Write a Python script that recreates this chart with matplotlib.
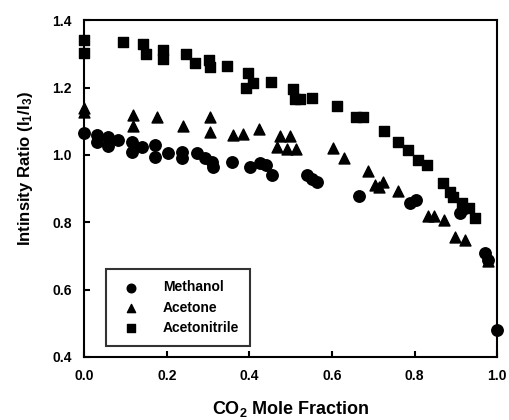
import matplotlib
matplotlib.use("Agg")
from matplotlib import pyplot as plt

plt.rcParams['font.family'] = ['Liberation Sans', 'DejaVu Sans']
plt.rcParams['mathtext.fontset'] = 'custom'
plt.rcParams['mathtext.rm'] = 'Liberation Sans:bold'
plt.rcParams['mathtext.it'] = 'Liberation Sans:bold'

# methanol
meth_x = [0.0, 0.031, 0.031, 0.058, 0.058, 0.082, 0.116, 0.116, 0.140, 0.172, 0.172,
          0.203, 0.237, 0.237, 0.274, 0.293, 0.310, 0.312, 0.358, 0.402, 0.426, 0.441,
          0.455, 0.540, 0.552, 0.564, 0.666, 0.789, 0.804, 0.910, 0.918, 0.971, 0.978, 1.0]
meth_y = [1.065, 1.059, 1.038, 1.053, 1.026, 1.044, 1.038, 1.008, 1.023, 1.029, 0.993,
          1.005, 1.008, 0.991, 1.005, 0.991, 0.979, 0.964, 0.979, 0.964, 0.976, 0.970,
          0.940, 0.940, 0.928, 0.919, 0.878, 0.857, 0.866, 0.827, 0.839, 0.709, 0.688, 0.480]

# acetone
acet_x = [0.0, 0.0, 0.119, 0.119, 0.177, 0.240, 0.305, 0.305, 0.361, 0.385, 0.424, 0.475,
          0.499, 0.467, 0.492, 0.513, 0.603, 0.630, 0.688, 0.705, 0.724, 0.714, 0.760,
          0.833, 0.847, 0.872, 0.898, 0.923, 0.978]
acet_y = [1.139, 1.128, 1.118, 1.085, 1.112, 1.085, 1.112, 1.068, 1.059, 1.062, 1.077, 1.056,
          1.056, 1.023, 1.017, 1.017, 1.020, 0.990, 0.952, 0.910, 0.919, 0.904, 0.893,
          0.818, 0.818, 0.807, 0.756, 0.747, 0.685]

# acetonitrile
acn_x = [0.0, 0.0, 0.094, 0.143, 0.150, 0.191, 0.191, 0.247, 0.269, 0.303, 0.305, 0.346,
         0.397, 0.392, 0.409, 0.453, 0.506, 0.511, 0.523, 0.552, 0.613, 0.659, 0.676,
         0.726, 0.760, 0.785, 0.809, 0.830, 0.869, 0.886, 0.893, 0.915, 0.932, 0.947]
acn_y = [1.341, 1.302, 1.335, 1.329, 1.299, 1.311, 1.284, 1.299, 1.272, 1.281, 1.261, 1.263,
         1.243, 1.198, 1.213, 1.216, 1.195, 1.166, 1.166, 1.169, 1.145, 1.112, 1.112,
         1.071, 1.038, 1.014, 0.985, 0.970, 0.916, 0.890, 0.875, 0.857, 0.842, 0.812]

xticks = [0.0, 0.2, 0.4, 0.6, 0.8, 1.0]
yticks = [0.4, 0.6, 0.8, 1.0, 1.2, 1.4]

fig = plt.figure(figsize=(5.1, 4.2), dpi=100)
ax = fig.add_axes([0.165, 0.150, 0.81, 0.802])

ax.scatter(meth_x, meth_y, marker='o', s=68, color='black', label='Methanol', clip_on=False, zorder=3)
ax.scatter(acet_x, acet_y, marker='^', s=62, color='black', label='Acetone', clip_on=False, zorder=3)
ax.scatter(acn_x, acn_y, marker='s', s=52, color='black', label='Acetonitrile', clip_on=False, zorder=3)

ax.set_xlim(0, 1.0)
ax.set_ylim(0.4, 1.4)
ax.set_xticks(xticks)
ax.set_yticks(yticks)
ax.set_xticklabels(['%.1f' % t for t in xticks], fontweight='bold')
ax.set_yticklabels(['%.1f' % t for t in yticks], fontweight='bold')
ax.tick_params(direction='in', length=4, width=1.5, labelsize=10, pad=9)
for sp in ax.spines.values():
    sp.set_linewidth(1.5)

ax.set_xlabel('CO$_2$ Mole Fraction', fontsize=13, fontweight='bold')
ax.set_ylabel('Intinsity Ratio (I$_1$/I$_3$)', fontsize=12, fontweight='bold')
ax.xaxis.set_label_coords(0.5, -0.125)
ax.yaxis.set_label_coords(-0.12, 0.56)

leg = ax.legend(loc='lower left', bbox_to_anchor=(0.053, 0.033), borderaxespad=0,
                frameon=True, fancybox=False, edgecolor='black', markerscale=0.75,
                prop={'size': 10, 'weight': 'bold'}, borderpad=0.8,
                handletextpad=1.3, labelspacing=0.45)
leg.get_frame().set_linewidth(1.5)

fig.savefig('out.png', dpi=100)
